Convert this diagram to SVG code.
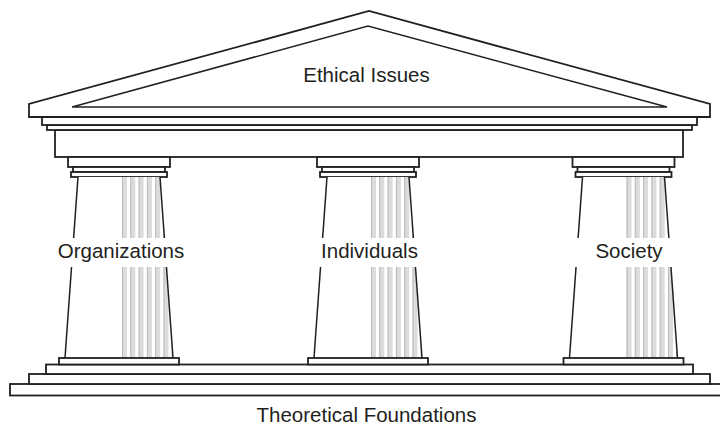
<svg xmlns="http://www.w3.org/2000/svg" xmlns:xlink="http://www.w3.org/1999/xlink" width="720" height="425" viewBox="0 0 720 425">
<style>
.ln{fill:#ffffff;stroke:#231f20;stroke-width:1.8;stroke-linejoin:miter}
.thin{fill:none;stroke:#231f20;stroke-width:1.5}
.fl{fill:#dcdcdc}
.fle{fill:#b8b8b8}
.lbl{font-family:"Liberation Sans",Arial,Helvetica,sans-serif;font-size:20.5px;fill:#231f20;text-anchor:middle}
.mask{fill:#ffffff;stroke:none}
</style>
<defs>
<clipPath id="shaftClip">
<polygon points="-41,177 41,177 54,358 -54,358"/>
</clipPath>
<g id="column">
<rect class="ln" x="-51" y="157" width="102" height="10"/>
<rect class="ln" x="-46" y="167" width="92" height="5"/>
<rect class="ln" x="-48" y="172" width="96" height="5"/>
<polygon points="-41,177 41,177 54,358 -54,358" fill="#ffffff"/>
<g clip-path="url(#shaftClip)">
<rect class="fl" x="3" y="177" width="5" height="181"/>
<rect class="fle" x="3" y="177" width="1" height="181"/>
<rect class="fl" x="11.3" y="177" width="5" height="181"/>
<rect class="fle" x="11.3" y="177" width="1" height="181"/>
<rect class="fl" x="19.6" y="177" width="5" height="181"/>
<rect class="fle" x="19.6" y="177" width="1" height="181"/>
<rect class="fl" x="27.9" y="177" width="5" height="181"/>
<rect class="fle" x="27.9" y="177" width="1" height="181"/>
<rect class="fl" x="36.2" y="177" width="5" height="181"/>
<rect class="fle" x="36.2" y="177" width="1" height="181"/>
<rect class="fl" x="44.5" y="177" width="5" height="181"/>
<rect class="fle" x="44.5" y="177" width="1" height="181"/>
<rect class="fl" x="52.8" y="177" width="5" height="181"/>
<rect class="fle" x="52.8" y="177" width="1" height="181"/>
</g>
<line class="thin" x1="-41" y1="177" x2="-54" y2="358" stroke-width="1.8"/>
<line class="thin" x1="41" y1="177" x2="54" y2="358" stroke-width="1.8"/>
<rect class="ln" x="-60" y="358" width="120" height="6.5"/>
</g>
</defs>

<g id="base">
<rect class="ln" x="10" y="384" width="730" height="11.5"/>
<rect class="ln" x="29" y="374" width="681" height="10"/>
<rect class="ln" x="46" y="364.5" width="647" height="9.5" stroke-width="2"/>
</g>

<g id="entablature">
<rect class="ln" x="55" y="130" width="628" height="27" stroke-width="2"/>
<rect class="ln" x="47" y="125" width="645" height="5"/>
<rect class="ln" x="42" y="117" width="655" height="8"/>
</g>

<g id="pediment">
<polygon class="ln" points="29,117 29,104 369,11 710,104 710,117" stroke-width="2"/>
<polyline class="thin" points="72,107 368,26 667,107 72,107"/>
<text class="lbl" x="366.5" y="82">Ethical Issues</text>
</g>

<g id="column-organizations">
<use xlink:href="#column" transform="translate(119,0)"/>
<rect class="mask" x="52" y="238" width="138" height="29"/>
<text class="lbl" x="121" y="257.5">Organizations</text>
</g>

<g id="column-individuals">
<use xlink:href="#column" transform="translate(368,0)"/>
<rect class="mask" x="315" y="238" width="109" height="29"/>
<text class="lbl" x="369.5" y="257.5">Individuals</text>
</g>

<g id="column-society">
<use xlink:href="#column" transform="translate(623.5,0)"/>
<rect class="mask" x="572" y="238" width="104" height="29"/>
<text class="lbl" x="629" y="257.5">Society</text>
</g>

<g id="connectors"></g>

<g id="foundation-label">
<text class="lbl" x="366.5" y="422">Theoretical Foundations</text>
</g>
</svg>
